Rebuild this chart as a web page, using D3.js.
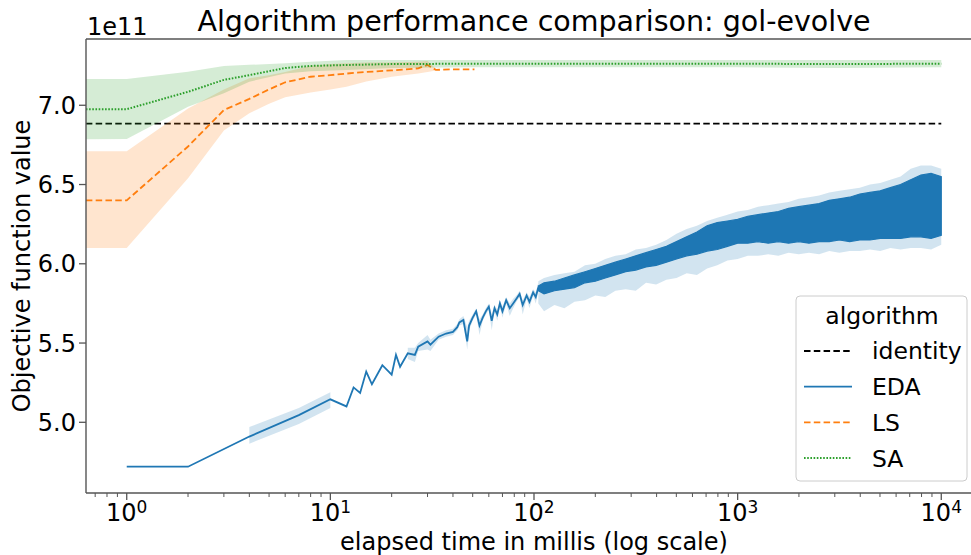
<!DOCTYPE html>
<html>
<head>
<meta charset="utf-8">
<script src="https://cdn.jsdelivr.net/npm/d3@7"></script>
<style>
  body { margin: 0; background: #fff; }
  text { font-family: "DejaVu Sans", sans-serif; fill: #000; }
</style>
</head>
<body>
<svg id="chart" width="971" height="555"></svg>
<script>
// values in units of 1e11
var yExp = 11;

var identityT = [0.63, 10000];
var identityV = [6.884, 6.884];

// EDA, sparse part (null band = single run at that time)
var edaT    = [1, 2, 4, 7, 10, 12, 13, 14, 15, 16, 18, 20, 21, 22, 24, 26, 27, 30, 31, 34, 37,
               40, 42, 43, 45, 47, 48, 50, 52, 54, 56, 58, 60, 62, 64, 66, 68, 70, 73, 76, 79,
               82, 85, 88, 92, 95, 99, 102, 105];
var edaMean = [4.72, 4.72, 4.91, 5.045, 5.145, 5.10, 5.22, 5.185, 5.32, 5.24, 5.36, 5.30, 5.425, 5.35, 5.435, 5.425, 5.477, 5.51, 5.49, 5.54, 5.56,
               5.57, 5.60, 5.63, 5.645, 5.51, 5.61, 5.66, 5.70, 5.61, 5.66, 5.70, 5.73, 5.64, 5.72, 5.68, 5.75, 5.70, 5.77, 5.72, 5.75,
               5.78, 5.81, 5.74, 5.80, 5.76, 5.82, 5.79, 5.85];
var edaLo   = [null, null, 4.865, 4.99, 5.09, null, 5.20, null, null, 5.20, null, null, 5.40, null, 5.40, 5.38, 5.45, 5.46, 5.45, 5.52, 5.54,
               5.55, 5.58, 5.61, 5.62, 5.46, 5.58, 5.64, 5.68, 5.55, 5.64, 5.68, 5.71, 5.58, 5.70, 5.64, 5.73, 5.66, 5.75, 5.67, 5.72,
               5.76, 5.79, 5.68, 5.78, 5.72, 5.80, 5.75, 5.83];
var edaHi   = [null, null, 4.97, 5.09, 5.19, null, 5.24, null, null, 5.27, null, null, 5.44, null, 5.47, 5.47, 5.50, 5.55, 5.52, 5.56, 5.58,
               5.59, 5.62, 5.65, 5.67, 5.60, 5.64, 5.68, 5.72, 5.65, 5.68, 5.72, 5.75, 5.68, 5.74, 5.71, 5.77, 5.73, 5.79, 5.75, 5.78,
               5.80, 5.83, 5.77, 5.82, 5.79, 5.84, 5.82, 5.88];

// EDA, dense part: spread of the oscillating line and of its band, read at knots
var edaDenseT = [105, 112, 126, 141, 158, 178, 200, 224, 251, 282, 316, 355, 398, 447, 501, 562, 631, 708, 794, 891,
                 1000, 1122, 1259, 1413, 1585, 1778, 1995, 2239, 2512, 2818, 3162, 3548, 3981, 4467, 5012, 5623, 6310, 7079, 7943, 8913, 10000];
var edaLineLo = [5.83, 5.81, 5.83, 5.84, 5.85, 5.88, 5.89, 5.91, 5.93, 5.95, 5.96, 5.98, 5.99, 6.01, 6.03, 6.05, 6.06, 6.08, 6.09, 6.11,
                 6.13, 6.13, 6.14, 6.13, 6.14, 6.13, 6.14, 6.13, 6.14, 6.14, 6.15, 6.14, 6.15, 6.15, 6.16, 6.16, 6.16, 6.17, 6.17, 6.16, 6.18];
var edaLineHi = [5.86, 5.88, 5.89, 5.91, 5.93, 5.95, 5.97, 5.99, 6.01, 6.03, 6.05, 6.07, 6.09, 6.11, 6.14, 6.17, 6.20, 6.24, 6.26, 6.27,
                 6.28, 6.30, 6.31, 6.32, 6.33, 6.35, 6.36, 6.37, 6.38, 6.40, 6.41, 6.42, 6.44, 6.45, 6.46, 6.48, 6.50, 6.53, 6.56, 6.57, 6.55];
var edaCiLo   = [5.75, 5.70, 5.74, 5.72, 5.76, 5.77, 5.80, 5.79, 5.83, 5.84, 5.83, 5.88, 5.87, 5.90, 5.91, 5.94, 5.93, 5.97, 5.99, 6.02,
                 6.03, 6.05, 6.05, 6.06, 6.05, 6.07, 6.06, 6.07, 6.06, 6.08, 6.07, 6.08, 6.08, 6.09, 6.08, 6.10, 6.09, 6.10, 6.10, 6.09, 6.12];
var edaCiHi   = [5.89, 5.91, 5.93, 5.94, 5.95, 5.99, 6.00, 6.03, 6.05, 6.06, 6.09, 6.10, 6.12, 6.15, 6.19, 6.22, 6.24, 6.27, 6.29, 6.31,
                 6.33, 6.34, 6.36, 6.37, 6.38, 6.39, 6.41, 6.42, 6.43, 6.45, 6.46, 6.47, 6.48, 6.50, 6.51, 6.53, 6.55, 6.60, 6.62, 6.62, 6.60];

var lsT    = [0.63, 1, 2, 3, 4, 5, 6, 8, 10, 12, 15, 20, 27, 30, 33, 40, 51];
var lsMean = [6.40, 6.40, 6.74, 6.97, 7.04, 7.10, 7.145, 7.18, 7.19, 7.20, 7.21, 7.22, 7.233, 7.254, 7.223, 7.227, 7.227];
var lsLo   = [6.10, 6.10, 6.54, 6.84, 6.95, 7.01, 7.05, 7.08, 7.10, 7.117, 7.15, 7.18, 7.20, 7.21, 7.22, null, null];
var lsHi   = [6.71, 6.71, 6.98, 7.10, 7.17, 7.19, 7.21, 7.25, 7.26, 7.265, 7.27, 7.27, 7.275, 7.28, 7.23, null, null];

var saT    = [0.63, 1, 2, 3, 4, 6, 8, 12, 20, 50, 100, 1000, 3000, 10000];
var saMean = [6.975, 6.975, 7.085, 7.16, 7.19, 7.235, 7.248, 7.254, 7.26, 7.262, 7.262, 7.262, 7.26, 7.262];
var saLo   = [6.785, 6.787, 6.99, 7.076, 7.149, 7.20, 7.215, 7.223, 7.235, 7.24, 7.24, 7.24, 7.235, 7.24];
var saHi   = [7.166, 7.166, 7.212, 7.248, 7.255, 7.265, 7.275, 7.286, 7.285, 7.285, 7.285, 7.285, 7.285, 7.285];

var yTicks = [5.0, 5.5, 6.0, 6.5, 7.0];
var xTicks = [1, 10, 100, 1000, 10000];
var legendNames = ["identity", "EDA", "LS", "SA"];

var colors = { identity: "#000000", EDA: "#1f77b4", LS: "#ff7f0e", SA: "#2ca02c" };
var dashes = { identity: "6.5,3.3", EDA: null, LS: "6.5,3.3", SA: "1.6,1.6" };

var svg = d3.select("#chart");
var axL = 86, axT = 39, axR = 982, axB = 493;

var x = d3.scaleLog().domain([Math.pow(10, -0.2), Math.pow(10, 4.2)]).range([axL, axR]);
var y = d3.scaleLinear().domain([4.554, 7.418]).range([axB, axT]);

svg.append("clipPath").attr("id", "clip")
  .append("rect").attr("x", axL).attr("y", axT).attr("width", axR - axL).attr("height", axB - axT);

var plot = svg.append("g").attr("clip-path", "url(#clip)");

function zip(ts, a, b, c) {
  return ts.map(function(t, i) {
    return { t: t, a: a ? a[i] : null, b: b ? b[i] : null, c: c ? c[i] : null };
  });
}

var line = d3.line().x(function(d) { return x(d.t); }).y(function(d) { return y(d.a); });
var band = d3.area()
  .defined(function(d) { return d.b != null; })
  .x(function(d) { return x(d.t); })
  .y0(function(d) { return y(d.b); })
  .y1(function(d) { return y(d.c); });

function drawLine(data, name) {
  plot.append("path").datum(data)
    .attr("d", line)
    .attr("fill", "none")
    .attr("stroke", colors[name])
    .attr("stroke-width", name == "SA" ? 2 : 1.8)
    .attr("stroke-dasharray", dashes[name]);
}
function drawBand(data, name) {
  plot.append("path").datum(data)
    .attr("d", band)
    .attr("fill", colors[name])
    .attr("fill-opacity", 0.2)
    .attr("stroke", "none");
}

// identity
drawLine(zip(identityT, identityV), "identity");

// EDA
var edaData = zip(edaT, edaMean, edaLo, edaHi);
drawLine(edaData, "EDA");
plot.append("path").datum(zip(edaDenseT, null, edaLineLo, edaLineHi))
  .attr("d", band)
  .attr("fill", colors.EDA)
  .attr("stroke", colors.EDA)
  .attr("stroke-width", 1.2);
drawBand(edaData, "EDA");
drawBand(zip(edaDenseT, null, edaCiLo, edaCiHi), "EDA");

// LS
var lsData = zip(lsT, lsMean, lsLo, lsHi);
drawLine(lsData, "LS");
drawBand(lsData, "LS");

// SA
var saData = zip(saT, saMean, saLo, saHi);
drawLine(saData, "SA");
drawBand(saData, "SA");

// axes
var spine = "#555";
svg.append("line").attr("x1", axL).attr("x2", axL).attr("y1", axT).attr("y2", axB)
  .attr("stroke", spine).attr("stroke-width", 1.4);
svg.append("line").attr("x1", axL).attr("x2", axR).attr("y1", axT).attr("y2", axT)
  .attr("stroke", spine).attr("stroke-width", 1.4);
svg.append("line").attr("x1", axL).attr("x2", axR).attr("y1", axB).attr("y2", axB)
  .attr("stroke", spine).attr("stroke-width", 1.4);

// y ticks
var yAxis = svg.append("g");
yTicks.forEach(function(v) {
  yAxis.append("line").attr("x1", axL - 7).attr("x2", axL).attr("y1", y(v)).attr("y2", y(v))
    .attr("stroke", spine).attr("stroke-width", 1.3);
  yAxis.append("text").attr("x", axL - 10).attr("y", y(v)).attr("dy", "0.36em")
    .attr("text-anchor", "end").style("font-size", "24px").text(v.toFixed(1));
});
svg.append("text").attr("x", 87).attr("y", 35).style("font-size", "24px").text("1e" + yExp);

// x ticks, major and minor
var xAxis = svg.append("g");
for (var e = -1; e <= 4; e++) {
  for (var k = 2; k <= 9; k++) {
    var t = k * Math.pow(10, e);
    if (t < x.domain()[0] || t > x.domain()[1]) continue;
    xAxis.append("line").attr("x1", x(t)).attr("x2", x(t)).attr("y1", axB).attr("y2", axB + 4)
      .attr("stroke", spine).attr("stroke-width", 1);
  }
}
xTicks.forEach(function(t) {
  var px = x(t);
  xAxis.append("line").attr("x1", px).attr("x2", px).attr("y1", axB).attr("y2", axB + 7)
    .attr("stroke", spine).attr("stroke-width", 1.3);
  var lab = xAxis.append("text").attr("x", px).attr("y", 521).attr("text-anchor", "middle")
    .style("font-size", "24px");
  lab.append("tspan").text("10");
  lab.append("tspan").attr("dy", "-0.45em").style("font-size", "17px").text(Math.round(Math.log10(t)));
});

// labels
svg.append("text").attr("x", (axL + axR) / 2).attr("y", 550).attr("text-anchor", "middle")
  .style("font-size", "24px").text("elapsed time in millis (log scale)");
svg.append("text").attr("transform", "translate(30," + ((axT + axB) / 2) + ") rotate(-90)")
  .attr("text-anchor", "middle").style("font-size", "24px").text("Objective function value");
svg.append("text").attr("x", (axL + axR) / 2).attr("y", 31).attr("text-anchor", "middle")
  .style("font-size", "28.5px").text("Algorithm performance comparison: gol-evolve");

// legend
var lg = svg.append("g");
lg.append("rect").attr("x", 796).attr("y", 296).attr("width", 171).attr("height", 185)
  .attr("rx", 4).attr("fill", "#fff").attr("fill-opacity", 0.8)
  .attr("stroke", "#ccc").attr("stroke-width", 1);
lg.append("text").attr("x", 882).attr("y", 316).attr("dy", "0.36em").attr("text-anchor", "middle")
  .style("font-size", "23.5px").text("algorithm");
legendNames.forEach(function(name, i) {
  var cy = 351 + i * 35.7;
  lg.append("line").attr("x1", 804).attr("x2", 852).attr("y1", cy).attr("y2", cy)
    .attr("stroke", colors[name]).attr("stroke-width", name == "SA" ? 2 : 1.8)
    .attr("stroke-dasharray", dashes[name]);
  lg.append("text").attr("x", 872).attr("y", cy).attr("dy", "0.36em")
    .style("font-size", "23.5px").text(name);
});
</script>
</body>
</html>
